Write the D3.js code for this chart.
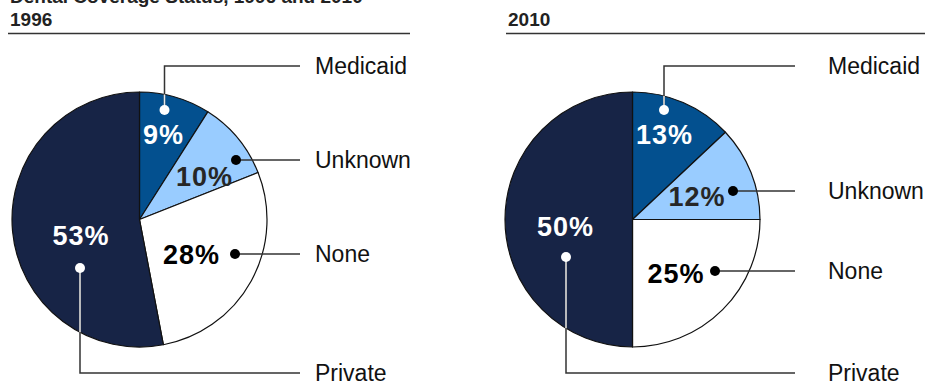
<!DOCTYPE html>
<html>
<head>
<meta charset="utf-8">
<script src="https://cdn.jsdelivr.net/npm/d3@7/dist/d3.min.js"></script>
<style>
  html, body { margin: 0; padding: 0; background: #fff; }
  svg { display: block; font-family: "Liberation Sans", Arial, Helvetica, sans-serif; }
</style>
</head>
<body>
<svg id="chart" width="940" height="381"></svg>
<script>
// Dental coverage status by year (percent of people)
const title = "Dental Coverage Status, 1996 and 2010";
const years = ["1996", "2010"];
const categories = ["Medicaid", "Unknown", "None", "Private"];
const values1996 = [9, 10, 28, 53];
const values2010 = [13, 12, 25, 50];

const colors = {
  Medicaid: "#03508f",
  Unknown: "#99ccff",
  None: "#ffffff",
  Private: "#172446"
};
const textColors = {
  Medicaid: "#ffffff",
  Unknown: "#262626",
  None: "#000000",
  Private: "#ffffff"
};

const svg = d3.select("#chart");
const R = 127.5;

// Panel layout: pie centre, header rule, connector end, label x
const panels = [
  { year: years[0], values: values1996, cx: 139.5, cy: 219.5, ruleX0: 8, ruleX1: 410, lineEnd: 300, labelX: 315,
    // value label (dx, baseline dy) and dot (dx, dy) relative to the pie centre
    marks: {
      Medicaid: { tx: 24, ty: -76, dot: [25, -109.5], route: "up", y: 66 },
      Unknown:  { tx: 65, ty: -34, dot: [96.5, -59.5], route: "right" },
      None:     { tx: 52, ty: 44.5, dot: [95.5, 34.5], route: "right" },
      Private:  { tx: -58.5, ty: 25.5, dot: [-59.5, 48.5], route: "down", y: 373 }
    }
  },
  { year: years[1], values: values2010, cx: 632.5, cy: 219.5, ruleX0: 506, ruleX1: 925, lineEnd: 795, labelX: 828,
    marks: {
      Medicaid: { tx: 32, ty: -76, dot: [31.5, -109.5], route: "up", y: 66 },
      Unknown:  { tx: 64.5, ty: -14, dot: [100.5, -28.5], route: "right" },
      None:     { tx: 43.5, ty: 63, dot: [82.5, 51.5], route: "right" },
      Private:  { tx: -67, ty: 16, dot: [-66.5, 37.5], route: "down", y: 373 }
    }
  }
];

// Chart title (sits partly above the top edge)
svg.append("text")
  .attr("x", 10).attr("y", 3)
  .attr("font-size", 19).attr("font-weight", "bold").attr("fill", "#222")
  .text(title);

const pie = d3.pie().sort(null).value(d => d.value);
const arc = d3.arc().innerRadius(0).outerRadius(R);

panels.forEach(p => {
  const g = svg.append("g");

  // Year header and rule
  g.append("text")
    .attr("x", p.ruleX0 + 2).attr("y", 26)
    .attr("font-size", 19).attr("font-weight", "bold").attr("fill", "#222")
    .text(p.year);
  g.append("line")
    .attr("x1", p.ruleX0).attr("x2", p.ruleX1)
    .attr("y1", 33.5).attr("y2", 33.5)
    .attr("stroke", "#333").attr("stroke-width", 1.5);

  const data = categories.map((c, i) => ({ cat: c, value: p.values[i] }));
  const arcs = pie(data);

  const pg = g.append("g").attr("transform", `translate(${p.cx},${p.cy})`);
  pg.selectAll("path")
    .data(arcs)
    .join("path")
    .attr("d", arc)
    .attr("fill", d => colors[d.data.cat])
    .attr("stroke", "#111")
    .attr("stroke-width", 1.2)
    .attr("stroke-linejoin", "round");

  // Connectors and category labels
  arcs.forEach(a => {
    const cat = a.data.cat;
    const m = p.marks[cat];
    const dx = m.dot[0], dy = m.dot[1];
    const x = p.cx + dx, y = p.cy + dy;
    const light = textColors[cat] === "#ffffff";
    let labelY;
    if (m.route === "right") {
      g.append("line")
        .attr("x1", x).attr("y1", y).attr("x2", p.lineEnd).attr("y2", y)
        .attr("stroke", "#333").attr("stroke-width", 1.5);
      labelY = y;
    } else {
      g.append("polyline")
        .attr("points", [[x, y], [x, m.y], [p.lineEnd, m.y]].map(q => q.join(",")).join(" "))
        .attr("fill", "none").attr("stroke", "#333").attr("stroke-width", 1.5);
      // part of the leader inside the slice is drawn white
      const edge = Math.sqrt(R * R - dx * dx);
      const yEdge = m.route === "up" ? p.cy - edge : p.cy + edge;
      g.append("line")
        .attr("x1", x).attr("y1", y).attr("x2", x).attr("y2", yEdge)
        .attr("stroke", light ? "#e8e8e8" : "#333").attr("stroke-width", 1.5);
      labelY = m.y;
    }
    g.append("circle")
      .attr("cx", x).attr("cy", y).attr("r", 5)
      .attr("fill", light ? "#ffffff" : "#000000");

    g.append("text")
      .attr("x", p.labelX).attr("y", labelY + 7.5)
      .attr("font-size", 23).attr("fill", "#111")
      .text(cat);

    // Percentage label
    pg.append("text")
      .attr("x", m.tx).attr("y", m.ty)
      .attr("text-anchor", "middle")
      .attr("font-size", 27).attr("font-weight", "bold")
      .attr("letter-spacing", 1)
      .attr("fill", textColors[cat])
      .text(a.data.value + "%");
  });
});
</script>
</body>
</html>
